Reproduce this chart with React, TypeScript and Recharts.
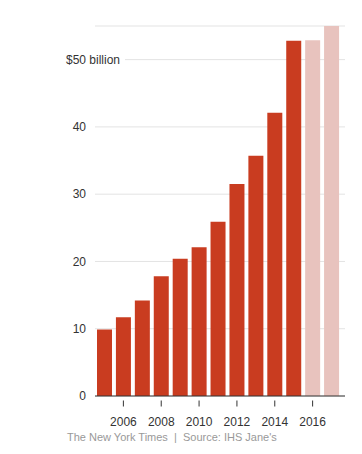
import { BarChart, Bar, XAxis, YAxis, CartesianGrid, Cell } from "recharts";

const years = [2005, 2006, 2007, 2008, 2009, 2010, 2011, 2012, 2013, 2014, 2015, 2016, 2017];
const spending = [9.9, 11.7, 14.2, 17.8, 20.4, 22.1, 25.9, 31.5, 35.7, 42.1, 52.8, 52.9, 55.0];
const projected = [false, false, false, false, false, false, false, false, false, false, false, true, true];
const yTicks = [0, 10, 20, 30, 40, 50];

const data = years.map((y, i) => ({ year: y, value: spending[i], projected: projected[i] }));

const FONT = "Arial, 'Liberation Sans', Helvetica, sans-serif";

function YTick(props: any) {
  const { x, y, payload } = props;
  if (payload.value === 50) {
    return (
      <g>
        <rect x={x} y={y - 7} width={39} height={14} fill="#fff" />
        <text x={x} y={y} dy="0.355em" textAnchor="end" fill="#333" fontSize={12} fontFamily={FONT}>
          $50
        </text>
        <text x={x + 3.3} y={y} dy="0.355em" textAnchor="start" fill="#333" fontSize={12} fontFamily={FONT}>
          billion
        </text>
      </g>
    );
  }
  return (
    <text x={x} y={y} dy="0.355em" textAnchor="end" fill="#333" fontSize={12} fontFamily={FONT}>
      {payload.value}
    </text>
  );
}

function XTick(props: any) {
  const { x, y, payload } = props;
  if (payload.value % 2 !== 0) return <g />;
  return (
    <g>
      <line x1={x} x2={x} y1={y + 4.5} y2={y + 10.5} stroke="#333" strokeWidth={1} />
      <text x={x} y={y + 29.5} textAnchor="middle" fill="#333" fontSize={12} fontFamily={FONT}>
        {payload.value}
      </text>
    </g>
  );
}

export default function App() {
  return (
    <div style={{ position: "absolute", left: 0, top: 0, width: 362, height: 454, background: "#fff" }}>
      <BarChart
        width={362}
        height={454}
        data={data}
        margin={{ top: 26, right: 17, bottom: 0, left: 0 }}
        barSize={15}
      >
        <CartesianGrid vertical={false} stroke="#e3e3e3" strokeWidth={1} />
        <XAxis
          dataKey="year"
          height={58}
          interval={0}
          tickLine={false}
          tickSize={0}
          tickMargin={0}
          axisLine={{ stroke: "#333", strokeWidth: 1 }}
          padding={{ left: 0, right: 4 }}
          tick={<XTick />}
        />
        <YAxis
          width={95}
          domain={[0, 55]}
          ticks={yTicks}
          axisLine={false}
          tickLine={false}
          tickSize={0}
          tickMargin={9}
          tick={<YTick />}
        />
        <Bar dataKey="value" isAnimationActive={false}>
          {data.map((d, i) => (
            <Cell key={i} fill={d.projected ? "#e8c3be" : "#c93c20"} />
          ))}
        </Bar>
      </BarChart>
      <div
        style={{
          position: "absolute",
          left: 67,
          top: 431,
          fontFamily: FONT,
          fontSize: 11,
          color: "#999",
          whiteSpace: "pre",
          lineHeight: "13px",
        }}
      >
        The New York Times  |  Source: IHS Jane's
      </div>
    </div>
  );
}
